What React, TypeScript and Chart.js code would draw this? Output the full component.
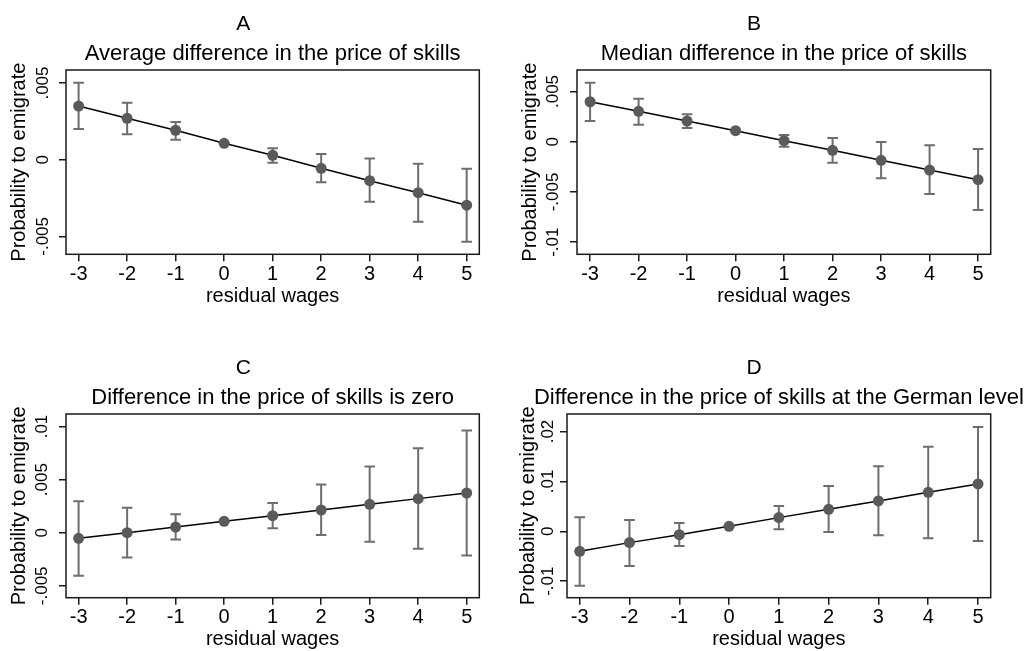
import React, { useEffect, useRef } from "react";
import { Chart, registerables } from "chart.js";

Chart.register(...registerables);

// ---------- data ----------
const residualWages = [-3, -2, -1, 0, 1, 2, 3, 4, 5];
const xTickLabels = ["-3", "-2", "-1", "0", "1", "2", "3", "4", "5"];

const panelLetters = ["A", "B", "C", "D"];
const panelSubtitles = [
  "Average difference in the price of skills",
  "Median difference in the price of skills",
  "Difference in the price of skills is zero",
  "Difference in the price of skills at the German level",
];

const estA = [0.0035, 0.0027, 0.00192, 0.00107, 0.00029, -0.00056, -0.00137, -0.00215, -0.00297];
const hiA = [0.00502, 0.00372, 0.00246, 0.00109, 0.00074, 0.00037, 0.00007, -0.00026, -0.00059];
const loA = [0.002, 0.00166, 0.0013, 0.00105, -0.0002, -0.00147, -0.00274, -0.00404, -0.00535];

const estB = [0.00398, 0.00303, 0.00206, 0.0011, 0.0001, -0.00086, -0.00185, -0.00282, -0.00378];
const hiB = [0.00588, 0.00428, 0.00273, 0.00112, 0.00067, 0.00037, -0.00003, -0.00036, -0.00073];
const loB = [0.00206, 0.00169, 0.00136, 0.00108, -0.0005, -0.00209, -0.00365, -0.00521, -0.0068];

const estC = [-0.00053, 0.0, 0.00053, 0.00107, 0.0016, 0.00214, 0.00267, 0.00321, 0.00374];
const hiC = [0.00296, 0.00236, 0.00173, 0.00109, 0.0028, 0.00453, 0.00623, 0.00796, 0.00962];
const loC = [-0.00406, -0.00233, -0.00063, 0.00105, 0.00041, -0.00022, -0.00085, -0.00151, -0.00214];

const estD = [-0.00401, -0.00227, -0.00067, 0.001, 0.00274, 0.00441, 0.00608, 0.00782, 0.00949];
const hiD = [0.00281, 0.00227, 0.00167, 0.00102, 0.00508, 0.00908, 0.01303, 0.01697, 0.02091];
const loD = [-0.01089, -0.00695, -0.00294, 0.00098, 0.0004, -0.00013, -0.0008, -0.0014, -0.00194];

const yTicksA = [-0.005, 0, 0.005];
const yTickLabelsA = ["-.005", "0", ".005"];
const yTicksB = [-0.01, -0.005, 0, 0.005];
const yTickLabelsB = ["-.01", "-.005", "0", ".005"];
const yTicksC = [-0.005, 0, 0.005, 0.01];
const yTickLabelsC = ["-.005", "0", ".005", ".01"];
const yTicksD = [-0.01, 0, 0.01, 0.02];
const yTickLabelsD = ["-.01", "0", ".01", ".02"];

const xAxisTitle = "residual wages";
const yAxisTitle = "Probability to emigrate";

// ---------- layout / style ----------
const FONT = '"Liberation Sans", Arial, Helvetica, sans-serif';

type Panel = {
  letter: string;
  subtitle: string;
  est: number[];
  hi: number[];
  lo: number[];
  yTicks: number[];
  yTickLabels: string[];
  box: { left: number; top: number; w: number; h: number };
  plot: { l: number; t: number; r: number; b: number };
  xRange: [number, number];
  yRange: [number, number];
  letterX: number;
  yTitleX: number;
  yTickX: number;
};

const panels: Panel[] = [
  {
    letter: panelLetters[0], subtitle: panelSubtitles[0], est: estA, hi: hiA, lo: loA,
    yTicks: yTicksA, yTickLabels: yTickLabelsA,
    box: { left: 0, top: 0, w: 513, h: 325 },
    plot: { l: 66, t: 70, r: 479.3, b: 254.3 },
    xRange: [-3.26, 5.26], yRange: [-0.00617, 0.00585],
    letterX: 243.3, yTitleX: 19, yTickX: 43.5,
  },
  {
    letter: panelLetters[1], subtitle: panelSubtitles[1], est: estB, hi: hiB, lo: loB,
    yTicks: yTicksB, yTickLabels: yTickLabelsB,
    box: { left: 513, top: 0, w: 513, h: 325 },
    plot: { l: 64, t: 70, r: 477.7, b: 254.3 },
    xRange: [-3.27, 5.26], yRange: [-0.01121, 0.00714],
    letterX: 241, yTitleX: 17.5, yTickX: 40.5,
  },
  {
    letter: panelLetters[2], subtitle: panelSubtitles[2], est: estC, hi: hiC, lo: loC,
    yTicks: yTicksC, yTickLabels: yTickLabelsC,
    box: { left: 0, top: 325, w: 513, h: 326 },
    plot: { l: 66, t: 89, r: 479.3, b: 272.7 },
    xRange: [-3.26, 5.26], yRange: [-0.00612, 0.01118],
    letterX: 243.3, yTitleX: 19, yTickX: 42.5,
  },
  {
    letter: panelLetters[3], subtitle: panelSubtitles[3], est: estD, hi: hiD, lo: loD,
    yTicks: yTicksD, yTickLabels: yTickLabelsD,
    box: { left: 513, top: 325, w: 513, h: 326 },
    plot: { l: 54, t: 89, r: 477.7, b: 272.7 },
    xRange: [-3.255, 5.255], yRange: [-0.01331, 0.02351],
    letterX: 241, yTitleX: 15, yTickX: 35,
  },
];

function makeDecorPlugin(p: Panel) {
  return {
    id: "decor" + p.letter,
    beforeDatasetsDraw(chart: any) {
      const ctx = chart.ctx;
      const xs = chart.scales.x;
      const ys = chart.scales.y;
      ctx.save();
      ctx.strokeStyle = "#6e6e6e";
      ctx.lineWidth = 2;
      const cap = 5.3;
      residualWages.forEach((xv, i) => {
        const x = xs.getPixelForValue(xv);
        const y1 = ys.getPixelForValue(p.hi[i]);
        const y2 = ys.getPixelForValue(p.lo[i]);
        ctx.beginPath();
        ctx.moveTo(x, y1);
        ctx.lineTo(x, y2);
        ctx.moveTo(x - cap, y1);
        ctx.lineTo(x + cap, y1);
        ctx.moveTo(x - cap, y2);
        ctx.lineTo(x + cap, y2);
        ctx.stroke();
      });
      ctx.restore();
    },
    afterDraw(chart: any) {
      const ctx = chart.ctx;
      const a = chart.chartArea;
      const ys = chart.scales.y;
      ctx.save();
      // frame
      ctx.strokeStyle = "#1a1a1a";
      ctx.lineWidth = 1.5;
      ctx.strokeRect(a.left, a.top, a.right - a.left, a.bottom - a.top);
      ctx.fillStyle = "#000";
      // panel letter
      ctx.textAlign = "center";
      ctx.textBaseline = "alphabetic";
      ctx.font = `21px ${FONT}`;
      ctx.fillText(p.letter, p.letterX, a.top - 40.5);
      // subtitle
      ctx.font = `22px ${FONT}`;
      ctx.fillText(p.subtitle, (a.left + a.right) / 2, a.top - 10);
      // x axis title
      ctx.font = `20px ${FONT}`;
      ctx.fillText(xAxisTitle, (a.left + a.right) / 2, a.bottom + 47.5);
      // y tick labels (rotated)
      ctx.font = `17px ${FONT}`;
      ctx.textBaseline = "middle";
      p.yTicks.forEach((v, i) => {
        const y = ys.getPixelForValue(v);
        ctx.save();
        ctx.translate(p.yTickX, y);
        ctx.rotate(-Math.PI / 2);
        ctx.fillText(p.yTickLabels[i], 0, 0);
        ctx.restore();
      });
      // y axis title
      ctx.font = `20px ${FONT}`;
      ctx.save();
      ctx.translate(p.yTitleX, (a.top + a.bottom) / 2);
      ctx.rotate(-Math.PI / 2);
      ctx.fillText(yAxisTitle, 0, 0);
      ctx.restore();
      ctx.restore();
    },
  };
}

function PanelChart({ p }: { p: Panel }) {
  const ref = useRef<HTMLCanvasElement | null>(null);
  useEffect(() => {
    if (!ref.current) return;
    const xAxisHeight = p.box.h - p.plot.b;
    const chart = new Chart(ref.current, {
      type: "line",
      data: {
        datasets: [
          {
            data: residualWages.map((x, i) => ({ x, y: p.est[i] })),
            borderColor: "#000",
            borderWidth: 1.5,
            pointRadius: 5.5,
            pointBackgroundColor: "#5a5a5a",
            pointBorderColor: "#5a5a5a",
            pointBorderWidth: 0,
            tension: 0,
            fill: false,
            clip: false as any,
          },
        ],
      },
      options: {
        animation: false,
        responsive: false,
        devicePixelRatio: 1,
        layout: {
          autoPadding: false,
          padding: {
            left: p.plot.l,
            top: p.plot.t,
            right: p.box.w - p.plot.r,
            bottom: 0,
          },
        },
        plugins: {
          legend: { display: false },
          tooltip: { enabled: false },
          title: { display: false },
        },
        scales: {
          x: {
            type: "linear",
            min: p.xRange[0],
            max: p.xRange[1],
            afterBuildTicks: (s: any) => {
              s.ticks = residualWages.map((v) => ({ value: v }));
            },
            afterFit: (s: any) => {
              s.height = xAxisHeight;
            },
            border: { display: false },
            grid: {
              drawOnChartArea: false,
              drawTicks: true,
              tickLength: 7,
              color: "#1a1a1a",
              lineWidth: 1.5,
            },
            ticks: {
              autoSkip: false,
              maxRotation: 0,
              minRotation: 0,
              padding: 1,
              color: "#000",
              font: { family: FONT, size: 20 },
              callback: (v: any) => {
                const i = residualWages.indexOf(Number(v));
                return i >= 0 ? xTickLabels[i] : "";
              },
            },
          },
          y: {
            type: "linear",
            min: p.yRange[0],
            max: p.yRange[1],
            afterBuildTicks: (s: any) => {
              s.ticks = p.yTicks.map((v) => ({ value: v }));
            },
            afterFit: (s: any) => {
              s.width = 0;
            },
            border: { display: false },
            grid: {
              drawOnChartArea: false,
              drawTicks: true,
              tickLength: 7,
              color: "#1a1a1a",
              lineWidth: 1.5,
            },
            ticks: {
              color: "rgba(0,0,0,0)",
              font: { family: FONT, size: 16 },
              callback: () => "",
            },
          },
        },
      },
      plugins: [makeDecorPlugin(p)],
    } as any);
    return () => chart.destroy();
  }, [p]);
  return (
    <canvas
      ref={ref}
      width={p.box.w}
      height={p.box.h}
      style={{
        position: "absolute",
        left: p.box.left,
        top: p.box.top,
        width: p.box.w,
        height: p.box.h,
        display: "block",
      }}
    />
  );
}

export default function App() {
  return (
    <div
      style={{
        position: "absolute",
        left: 0,
        top: 0,
        width: 1026,
        height: 651,
        background: "#fff",
        overflow: "hidden",
      }}
    >
      {panels.map((p) => (
        <PanelChart key={p.letter} p={p} />
      ))}
    </div>
  );
}
